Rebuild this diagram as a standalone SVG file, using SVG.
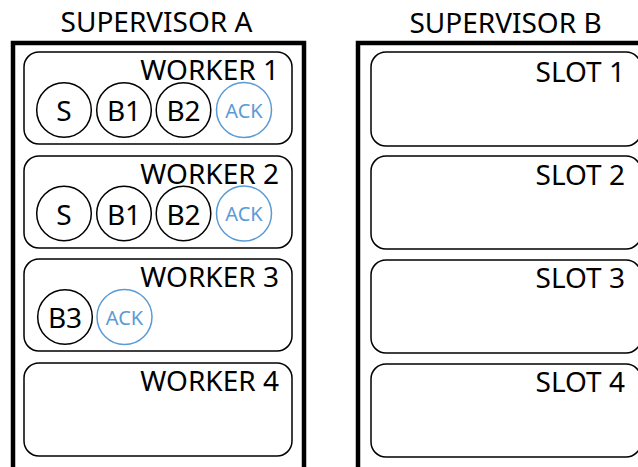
<svg xmlns="http://www.w3.org/2000/svg" width="638" height="467" viewBox="0 0 638 467">
  <style>
    .frame { fill: none; stroke: #000; stroke-width: 4.5; }
    .box { fill: #fff; stroke: #000; stroke-width: 1.5; }
    .tok { fill: #fff; stroke: #000; stroke-width: 1.5; }
    .ack { fill: #fff; stroke: #5B9BD5; stroke-width: 1.5; }
    text { font-family: "Noto Sans", "Open Sans", sans-serif; }
    .title { font-size: 28px; fill: #000; text-anchor: middle; }
    .label { font-size: 28px; fill: #000; text-anchor: end; }
    .tl { font-size: 28px; fill: #000; text-anchor: middle; }
    .al { font-size: 20px; fill: #5B9BD5; text-anchor: middle; }
  </style>
  <rect width="638" height="467" fill="#fff"/>

  <!-- Supervisor A -->
  <g id="supervisor-a">
    <text class="title" x="156.5" y="32">SUPERVISOR A</text>
    <path class="frame" d="M13 470 V43 H304 V470"/>
  </g>

  <g id="worker-1">
    <rect class="box" x="24" y="52" width="268" height="92" rx="15"/>
    <text class="label" x="279" y="80">WORKER 1</text>
    <circle class="tok" cx="64" cy="110" r="27.3"/><text class="tl" x="64" y="120.5">S</text>
    <circle class="tok" cx="124" cy="110" r="27.3"/><text class="tl" x="124" y="120.5">B1</text>
    <circle class="tok" cx="183.5" cy="110" r="27.3"/><text class="tl" x="183.5" y="120.5">B2</text>
    <circle class="ack" cx="244" cy="110" r="27.5"/><text class="al" x="244" y="117.5">ACK</text>
  </g>

  <g id="worker-2">
    <rect class="box" x="24" y="156" width="268" height="92" rx="15"/>
    <text class="label" x="279" y="184">WORKER 2</text>
    <circle class="tok" cx="64" cy="213.5" r="27.3"/><text class="tl" x="64" y="224.5">S</text>
    <circle class="tok" cx="124" cy="213.5" r="27.3"/><text class="tl" x="124" y="224.5">B1</text>
    <circle class="tok" cx="183.5" cy="213.5" r="27.3"/><text class="tl" x="183.5" y="224.5">B2</text>
    <circle class="ack" cx="244" cy="213.5" r="27.5"/><text class="al" x="244" y="221">ACK</text>
  </g>

  <g id="worker-3">
    <rect class="box" x="24" y="259" width="268" height="92" rx="15"/>
    <text class="label" x="279" y="287">WORKER 3</text>
    <circle class="tok" cx="65" cy="317" r="27.3"/><text class="tl" x="65" y="328">B3</text>
    <circle class="ack" cx="124.5" cy="317" r="27.5"/><text class="al" x="124.5" y="324.5">ACK</text>
  </g>

  <g id="worker-4">
    <rect class="box" x="24" y="363" width="268" height="93" rx="15"/>
    <text class="label" x="279" y="391">WORKER 4</text>
  </g>

  <!-- Supervisor B -->
  <g id="supervisor-b">
    <text class="title" x="505.5" y="33">SUPERVISOR B</text>
    <path class="frame" d="M358 470 V43 H645"/>
  </g>

  <g id="slot-1">
    <rect class="box" x="371" y="52" width="270" height="94" rx="15"/>
    <text class="label" x="625" y="82">SLOT 1</text>
  </g>
  <g id="slot-2">
    <rect class="box" x="371" y="156" width="270" height="93" rx="15"/>
    <text class="label" x="625" y="185">SLOT 2</text>
  </g>
  <g id="slot-3">
    <rect class="box" x="371" y="260" width="270" height="93" rx="15"/>
    <text class="label" x="625" y="288">SLOT 3</text>
  </g>
  <g id="slot-4">
    <rect class="box" x="371" y="364" width="270" height="93" rx="15"/>
    <text class="label" x="625" y="392">SLOT 4</text>
  </g>

  <!-- no connectors in this figure -->
  <g id="connectors"/>
</svg>
